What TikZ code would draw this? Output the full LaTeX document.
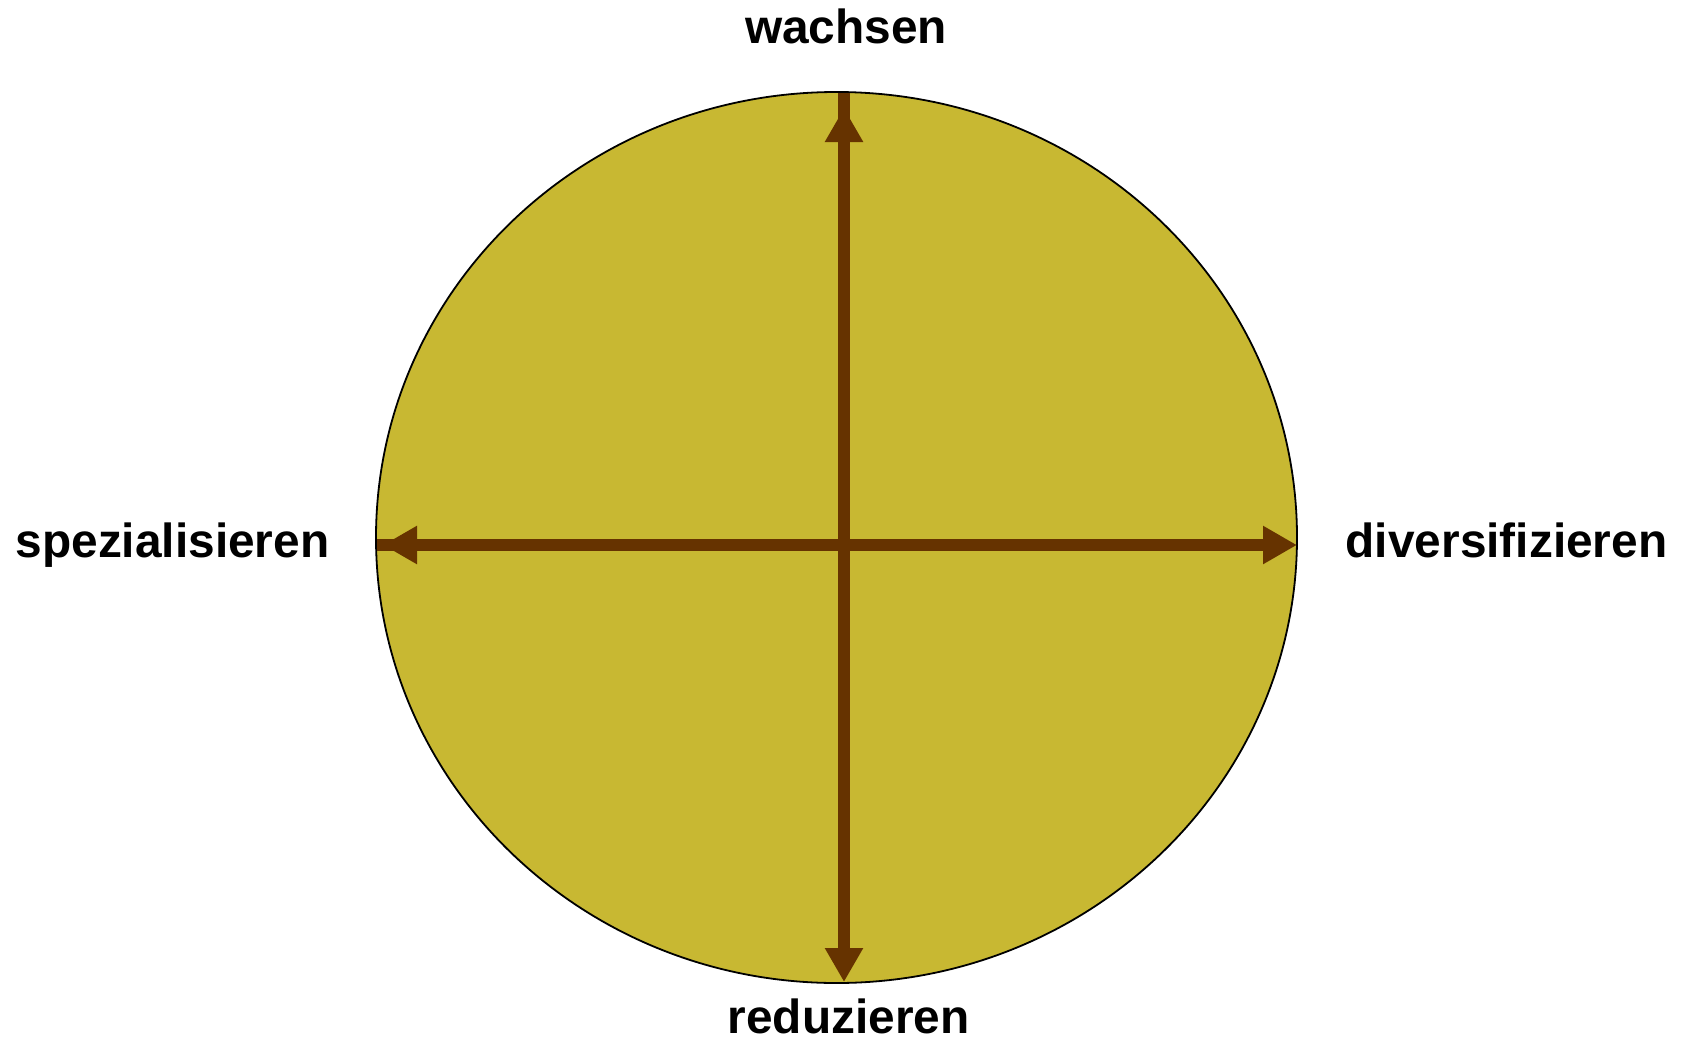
\documentclass[tikz,border=0pt]{standalone}
\usepackage{fontspec}
\setmainfont{Liberation Sans}
\usetikzlibrary{arrows.meta,shapes.geometric}
\definecolor{discfill}{RGB}{200,184,50}
\definecolor{arrowbrown}{RGB}{102,51,0}
\begin{document}
\begin{tikzpicture}[x=1bp,y=-1bp,
  disc/.style={ellipse,draw=black,line width=1.8bp,fill=discfill,inner sep=0pt,
    minimum width=921bp,minimum height=891bp},
  axis/.style={draw=arrowbrown,line width=12bp},
  axisarrow/.style={axis,-{Triangle[length=34bp,width=36bp]},arrowbrown},
  lbl/.style={font=\bfseries\fontsize{48}{56}\selectfont,anchor=base,inner sep=0pt}]
\useasboundingbox (0,0) rectangle (1687,1045);
\node[disc] (ring) at (836.5,537.5) {};
\coordinate (c) at (844,545);
\coordinate (topedge) at (844,93);
\coordinate (toptip) at (844,108);
\coordinate (leftedge) at (377,545);
\coordinate (lefttip) at (383,545);
\coordinate (righttip) at (1297,545);
\coordinate (bottomtip) at (844,982);
\draw[axis] (c) -- (topedge);
\draw[axis] (c) -- (leftedge);
\draw[axisarrow] (c) -- (toptip);
\draw[axisarrow] (c) -- (lefttip);
\draw[axisarrow] (c) -- (righttip);
\draw[axisarrow] (c) -- (bottomtip);
\node[lbl] (wachsen) at (846,43) {wachsen};
\node[lbl] (reduzieren) at (848.5,1033) {reduzieren};
\node[lbl] (spez) at (172.5,557) {spezialisieren};
\node[lbl] (divers) at (1506.5,557) {diversifizieren};
\end{tikzpicture}
\end{document}
